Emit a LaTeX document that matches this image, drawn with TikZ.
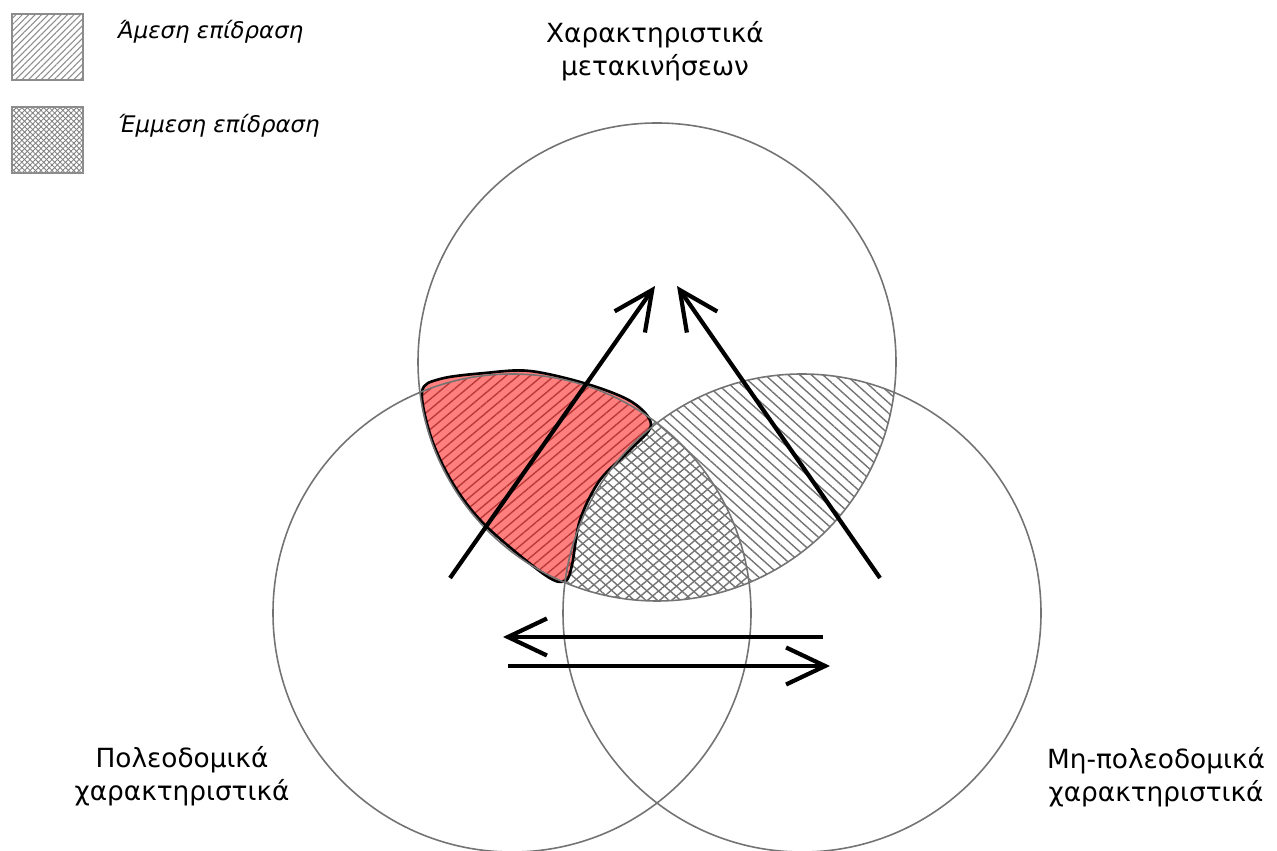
\documentclass[tikz,border=0pt]{standalone}
\usepackage{fontspec}
\setmainfont{DejaVu Sans}
\usetikzlibrary{patterns.meta,arrows.meta}

\begin{document}
\begin{tikzpicture}[x=0.02cm, y=0.02cm, font=\fontsize{15}{19}\selectfont,
	ring/.style={draw=black!55, line width=0.9pt},
	flow/.style={line width=2.4pt, -{Straight Barb[length=0.78cm, width=0.74cm]}},
	hatchne/.style={pattern={Lines[angle=40, distance=4.4pt, line width=0.8pt]}, pattern color=black!55},
	hatchnw/.style={pattern={Lines[angle=-42, distance=4.4pt, line width=0.8pt]}, pattern color=black!55},
	redzone/.style={draw=black, line width=1.5pt, fill=red, fill opacity=0.5},
	legendbox/.style={draw=black!45, line width=0.9pt},
	legendtext/.style={anchor=base west, font=\fontsize{13}{15}\selectfont\itshape}]
	\useasboundingbox (0,0) rectangle (1277,851);
	%centres
	\coordinate (travel) at (657,489);
	\coordinate (urban) at (512,238);
	\coordinate (nonurban) at (802,238);
	%overlaps
	\begin{scope}
		\clip (travel) circle[radius=239];
		\fill[hatchnw] (nonurban) circle[radius=239];
		\fill[hatchne] (urban) circle[radius=239];
	\end{scope}
	%marked zone
	\draw[redzone] plot[smooth cycle, tension=0.55] coordinates{(422,459) (440,472)
		(485,478) (530,480) (587,467) (632,449) (651,426) (630,401) (600,371)
		(580,331) (572,286) (565,270) (545,276) (487,324) (455,364) (432,411)};
	%circles
	\foreach \c in {travel,urban,nonurban}
	\draw[ring] (\c) circle[radius=239];
	%arrows
	\coordinate (urbanfoot) at (450,273);
	\coordinate (urbantip) at (655,565);
	\coordinate (nonurbanfoot) at (880,273);
	\coordinate (nonurbantip) at (677,565);
	\coordinate (backstart) at (823,214);
	\coordinate (backtip) at (503,214);
	\coordinate (forthstart) at (508,185);
	\coordinate (forthtip) at (830,185);
	\draw[flow] (urbanfoot) -- (urbantip);
	\draw[flow] (nonurbanfoot) -- (nonurbantip);
	\draw[flow] (backstart) -- (backtip);
	\draw[flow] (forthstart) -- (forthtip);
	%labels
	\node[align=center] (travellabel) at (655,800) {Χαρακτηριστικά\\μετακινήσεων};
	\node[align=center] (urbanlabel) at (182,75) {Πολεοδομικά\\χαρακτηριστικά};
	\node[align=center] (nonurbanlabel) at (1156,74) {Μη-πολεοδομικά\\χαρακτηριστικά};
	%legend
	\draw[legendbox, pattern={Lines[angle=45, distance=2.6pt, line width=0.6pt]}, pattern color=black!45] (12,771) rectangle (83,837);
	\fill[pattern={Lines[angle=45, distance=2.2pt, line width=0.5pt]}, pattern color=black!50] (12,678) rectangle (83,744);
	\draw[legendbox, pattern={Lines[angle=-45, distance=2.2pt, line width=0.5pt]}, pattern color=black!50] (12,678) rectangle (83,744);
	\node[legendtext] (directtext) at (112,812) {Άμεση επίδραση};
	\node[legendtext] (indirecttext) at (112,718) {Έμμεση επίδραση};
\end{tikzpicture}
\end{document}
